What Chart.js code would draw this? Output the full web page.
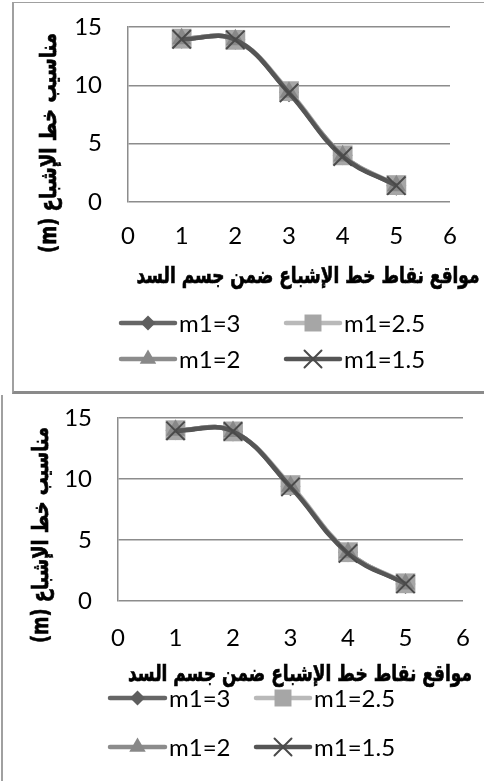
<!DOCTYPE html>
<html>
<head>
<meta charset="utf-8">
<script src="https://cdn.jsdelivr.net/npm/chart.js@4.4.1/dist/chart.umd.min.js"></script>
<style>
  html, body { margin: 0; padding: 0; background: #fff; }
  body { width: 484px; height: 781px; position: relative; overflow: hidden; }
  canvas { position: absolute; left: 0; }
  #c1 { top: 0; }
  #c2 { top: 393px; }
  .box1 { position: absolute; left: 12px; top: 2px; width: 472px; height: 388px;
          border-left: 2px solid #a0a0a0; border-top: 1px solid #a0a0a0; border-bottom: 3px solid #8a8a8a; }
  .box2 { position: absolute; left: 1px; top: 395px; width: 0; height: 386px; border-left: 2px solid #a0a0a0; }
</style>
</head>
<body>
<div class="box1"></div>
<div class="box2"></div>
<canvas id="c1" width="484" height="393"></canvas>
<canvas id="c2" width="484" height="388"></canvas>
<script>
// values (both charts show the same data)
const positions = [1, 2, 3, 4, 5];
const seriesNames = ['m1=3', 'm1=2.5', 'm1=2', 'm1=1.5'];
const m1_3 = [14.0, 13.9, 9.4, 4.0, 1.4];
const m1_25 = [14.0, 13.9, 9.5, 4.0, 1.45];
const m1_2 = [14.0, 13.9, 9.4, 3.95, 1.4];
const m1_15 = [13.95, 13.9, 9.35, 3.9, 1.4];
const xTickValues = [0, 1, 2, 3, 4, 5, 6];
const yTickValues = [0, 5, 10, 15];
const xTitle = 'مواقع نقاط خط الإشباع ضمن جسم السد';
const yTitle = 'مناسيب خط الإشباع (m)';

const seriesValues = [m1_3, m1_25, m1_2, m1_15];
const seriesStyle = [
  { color: '#666666', marker: '#5e5e5e', point: 'rectRot', r: 10, lr: 7.5 },
  { color: '#b9b9b9', marker: '#a6a6a6', point: 'rect', r: 14, lr: 12 },
  { color: '#8c8c8c', marker: '#888888', point: 'triangle', r: 11, lr: 9.5 },
  { color: '#555555', marker: '#4a4a4a', point: 'crossRot', r: 13, lr: 12 }
];

const tickFont = { family: 'Lato', size: 24 };
const titleFont = 'bold 23px "DejaVu Sans"';

function buildDatasets() {
  return seriesNames.map(function (name, i) {
    const st = seriesStyle[i];
    return {
      label: name,
      data: positions.map(function (x, k) { return { x: x, y: seriesValues[i][k] }; }),
      borderColor: st.color,
      backgroundColor: st.marker,
      borderWidth: 4.5,
      tension: 0.4,
      pointStyle: st.point,
      pointRadius: st.r,
      pointBackgroundColor: st.marker,
      pointBorderColor: st.marker,
      pointBorderWidth: st.point === 'crossRot' ? 2 : 0,
      order: seriesNames.length - i
    };
  });
}

// draw a title squeezed to a given length (the original font is narrower than DejaVu)
function fitText(ctx, text, x, y, len, angle) {
  ctx.save();
  ctx.translate(x, y);
  ctx.rotate(angle);
  const w = ctx.measureText(text).width;
  ctx.scale(len / w, 1);
  ctx.fillText(text, 0, 0);
  ctx.lineWidth = 0.7;
  ctx.strokeText(text, 0, 0);
  ctx.restore();
}

// axis titles and the line+marker legend, placed like the excel original
const decorPlugin = {
  id: 'decor',
  afterDraw(chart, args, opts) {
    const ctx = chart.ctx;
    ctx.save();
    ctx.fillStyle = '#000';
    ctx.strokeStyle = '#000';
    ctx.font = titleFont;
    ctx.direction = 'rtl';
    ctx.textAlign = 'center';
    ctx.textBaseline = 'middle';
    fitText(ctx, xTitle, opts.xTitle.x, opts.xTitle.y, opts.xTitle.len, 0);
    fitText(ctx, yTitle, opts.yTitle.x, opts.yTitle.y, opts.yTitle.len, -Math.PI / 2);
    ctx.restore();

    ctx.save();
    chart.data.datasets.forEach(function (ds, i) {
      const st = seriesStyle[i];
      const y = opts.legend.rows[Math.floor(i / 2)];
      const c = opts.legend.cols[i % 2];
      ctx.strokeStyle = st.color;
      ctx.lineWidth = 4.5;
      ctx.lineCap = 'round';
      ctx.beginPath();
      ctx.moveTo(c[0], y);
      ctx.lineTo(c[1], y);
      ctx.stroke();
      ctx.fillStyle = st.marker;
      ctx.strokeStyle = st.marker;
      ctx.lineWidth = 2;
      Chart.helpers.drawPoint(ctx, {
        pointStyle: st.point, radius: st.lr, rotation: 0,
        borderWidth: st.point === 'crossRot' ? 2 : 0
      }, (c[0] + c[1]) / 2, y);
      ctx.fillStyle = '#000';
      ctx.font = tickFont.size + 'px ' + tickFont.family;
      ctx.textAlign = 'left';
      ctx.textBaseline = 'middle';
      ctx.direction = 'ltr';
      ctx.fillText(ds.label, c[1] + 4, y + 1);
    });
    ctx.restore();
  }
};

function makeChart(id, g) {
  return new Chart(document.getElementById(id), {
    type: 'line',
    data: { datasets: buildDatasets() },
    plugins: [decorPlugin],
    options: {
      responsive: false,
      animation: false,
      layout: { padding: g.pad },
      plugins: {
        legend: { display: false },
        tooltip: { enabled: false },
        decor: { xTitle: g.xTitle, yTitle: g.yTitle, legend: g.legend }
      },
      scales: {
        x: {
          type: 'linear',
          min: 0, max: 6,
          afterBuildTicks(s) { s.ticks = xTickValues.map(function (v) { return { value: v }; }); },
          afterFit(s) { s.height = g.xHeight; s.paddingLeft = 0; s.paddingRight = 0; },
          ticks: { font: tickFont, color: '#000', padding: g.xTickPad, maxRotation: 0 },
          grid: { display: false, drawTicks: false },
          border: { display: false }
        },
        y: {
          min: 0, max: 15,
          afterBuildTicks(s) { s.ticks = yTickValues.map(function (v) { return { value: v }; }); },
          afterFit(s) { s.width = g.yWidth; s.paddingTop = 0; s.paddingBottom = 0; },
          ticks: { font: tickFont, color: '#000', padding: 26 },
          grid: { color: '#8c8c8c', lineWidth: 1.5, drawTicks: false },
          border: { display: true, color: '#8c8c8c', width: 1.5 }
        }
      }
    }
  });
}

makeChart('c1', {
  pad: { top: 27, right: 34, left: 0, bottom: 0 },
  yWidth: 128, xHeight: 191, xTickPad: 20,
  xTitle: { x: 308, y: 277, len: 343 }, yTitle: { x: 50, y: 143, len: 220 },
  legend: { rows: [323, 359], cols: [[121, 175], [286, 340]] }
});

makeChart('c2', {
  pad: { top: 25, right: 21, left: 0, bottom: 0 },
  yWidth: 118, xHeight: 180, xTickPad: 23,
  xTitle: { x: 300, y: 282, len: 344 }, yTitle: { x: 42, y: 142, len: 216 },
  legend: { rows: [305, 354], cols: [[110, 165], [256, 310]] }
});
</script>
</body>
</html>
